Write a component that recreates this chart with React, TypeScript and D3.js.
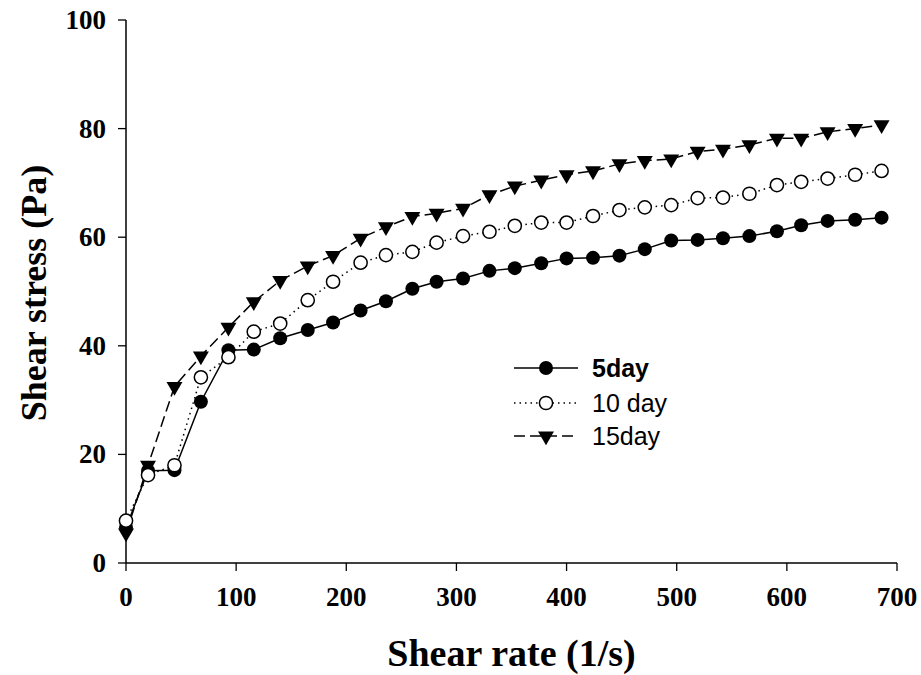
import React from "react";
import * as d3 from "d3";

// Shear rate (1/s) at each measurement step
const shearRate = [
  0, 20, 44, 68, 93, 116, 140, 165, 188, 213, 236, 260, 282, 306, 330,
  353, 377, 400, 424, 448, 471, 495, 519, 542, 566, 591, 613, 637, 662, 686,
];

// Shear stress (Pa) for each storage time
const stress5day = [
  6.5, 17.0, 17.1, 29.7, 39.2, 39.3, 41.4, 42.9, 44.3, 46.5, 48.2, 50.5, 51.8, 52.4, 53.8,
  54.3, 55.2, 56.1, 56.2, 56.6, 57.8, 59.4, 59.5, 59.8, 60.2, 61.1, 62.2, 63.0, 63.2, 63.6,
];
const stress10day = [
  7.8, 16.2, 18.0, 34.2, 37.9, 42.6, 44.1, 48.4, 51.8, 55.3, 56.7, 57.3, 59.0, 60.2, 61.0,
  62.1, 62.7, 62.7, 63.9, 65.0, 65.5, 65.9, 67.2, 67.3, 68.0, 69.6, 70.2, 70.8, 71.5, 72.2,
];
const stress15day = [
  5.5, 18.0, 32.5, 38.1, 43.4, 48.1, 52.0, 54.7, 56.6, 59.8, 61.9, 63.8, 64.4, 65.3, 67.8,
  69.4, 70.5, 71.5, 72.2, 73.5, 74.1, 74.4, 75.8, 76.2, 77.0, 78.2, 78.2, 79.4, 80.0, 80.7,
];

const xTicks = [0, 100, 200, 300, 400, 500, 600, 700];
const yTicks = [0, 20, 40, 60, 80, 100];

type Marker = "filledCircle" | "openCircle" | "triangleDown";
type Series = { key: string; label: string; values: number[]; dash: string; marker: Marker; bold: boolean };

const series: Series[] = [
  { key: "d5", label: "5day", values: stress5day, dash: "none", marker: "filledCircle", bold: true },
  { key: "d15", label: "15day", values: stress15day, dash: "11,5", marker: "triangleDown", bold: false },
  { key: "d10", label: "10 day", values: stress10day, dash: "1.5,4", marker: "openCircle", bold: false },
];
const legendOrder = ["d5", "d10", "d15"];

const W = 921;
const H = 675;
const serif = "'Liberation Serif', 'Times New Roman', serif";
const sans = "'Liberation Sans', Arial, sans-serif";

const x = d3.scaleLinear().domain([0, 700]).range([126, 897]);
const y = d3.scaleLinear().domain([0, 100]).range([563, 20]);

const triPath = d3.symbol().type(d3.symbolTriangle).size(110)() as string;

function MarkerShape({ kind, cx, cy }: { kind: Marker; cx: number; cy: number }) {
  if (kind === "filledCircle") return <circle cx={cx} cy={cy} r={7} fill="#000" />;
  if (kind === "openCircle")
    return <circle cx={cx} cy={cy} r={6.6} fill="#fff" stroke="#000" strokeWidth={1.5} />;
  return <path d={triPath} transform={`translate(${cx},${cy}) rotate(180)`} fill="#000" />;
}

export default function App() {
  const line = d3
    .line<[number, number]>()
    .x((d) => x(d[0]))
    .y((d) => y(d[1]));

  const legendX0 = 514;
  const legendX1 = 578;
  const legendY = [368, 403, 436];

  return (
    <svg
      width={W}
      height={H}
      style={{ position: "absolute", left: 0, top: 0, background: "#fff" }}
    >
      {/* axes */}
      <line x1={x(0)} x2={x(0)} y1={y(0)} y2={y(100)} stroke="#000" strokeWidth={1.5} />
      <line x1={x(0)} x2={x(700)} y1={y(0)} y2={y(0)} stroke="#000" strokeWidth={1.5} />
      {yTicks.map((t) => (
        <g key={`yt${t}`}>
          <line x1={x(0) - 8} x2={x(0)} y1={y(t)} y2={y(t)} stroke="#000" strokeWidth={1.3} />
          <text
            x={106}
            y={y(t) + 9}
            textAnchor="end"
            fontFamily={serif}
            fontWeight="bold"
            fontSize={27}
          >
            {t}
          </text>
        </g>
      ))}
      {xTicks.map((t) => (
        <g key={`xt${t}`}>
          <line x1={x(t)} x2={x(t)} y1={y(0)} y2={y(0) + 8} stroke="#000" strokeWidth={1.3} />
          <text
            x={x(t)}
            y={606}
            textAnchor="middle"
            fontFamily={serif}
            fontWeight="bold"
            fontSize={27}
          >
            {t}
          </text>
        </g>
      ))}

      {/* axis titles */}
      <text
        x={(x(0) + x(700)) / 2}
        y={666}
        textAnchor="middle"
        fontFamily={serif}
        fontWeight="bold"
        fontSize={38}
      >
        Shear rate (1/s)
      </text>
      <text
        transform={`translate(46,293) rotate(-90)`}
        textAnchor="middle"
        fontFamily={serif}
        fontWeight="bold"
        fontSize={36}
      >
        Shear stress (Pa)
      </text>

      {/* series */}
      {series.map((s) => {
        const pts = shearRate.map((r, i) => [r, s.values[i]] as [number, number]);
        return (
          <g key={s.key}>
            <path
              d={line(pts) as string}
              fill="none"
              stroke="#000"
              strokeWidth={1.5}
              strokeDasharray={s.dash === "none" ? undefined : s.dash}
            />
            {pts.map((p, i) => (
              <MarkerShape key={i} kind={s.marker} cx={x(p[0])} cy={y(p[1])} />
            ))}
          </g>
        );
      })}

      {/* legend */}
      {legendOrder.map((k, i) => {
        const s = series.find((d) => d.key === k)!;
        const ly = legendY[i];
        return (
          <g key={`lg${k}`}>
            <line
              x1={legendX0}
              x2={legendX1}
              y1={ly}
              y2={ly}
              stroke="#000"
              strokeWidth={1.5}
              strokeDasharray={s.dash === "none" ? undefined : s.dash}
            />
            <MarkerShape kind={s.marker} cx={(legendX0 + legendX1) / 2} cy={ly} />
            <text
              x={592}
              y={ly + 9}
              fontFamily={sans}
              fontWeight={s.bold ? "bold" : "normal"}
              fontSize={25}
            >
              {s.label}
            </text>
          </g>
        );
      })}
    </svg>
  );
}
